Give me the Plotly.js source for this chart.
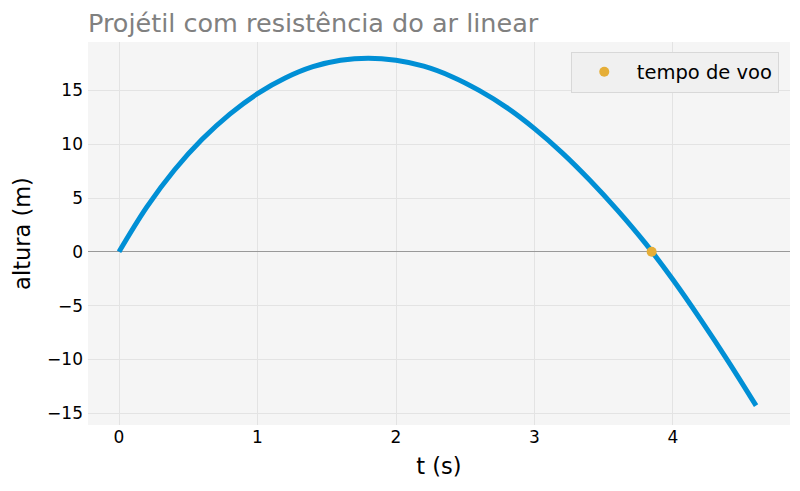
<!DOCTYPE html>
<html>
<head>
<meta charset="utf-8">
<script src="https://cdn.plot.ly/plotly-3.0.1.min.js"></script>
<style>
  html, body { margin: 0; padding: 0; background: #fff; }
  #plot { width: 800px; height: 491px; }
</style>
</head>
<body>
<div id="plot"></div>
<script>
'use strict';

// altura do projétil
const tempo = [0, 0.2, 0.4, 0.6, 0.8, 1.0, 1.2, 1.4, 1.6, 1.8,
               2.0, 2.2, 2.4, 2.6, 2.8, 3.0, 3.2, 3.4, 3.6, 3.8,
               4.0, 4.2, 4.4, 4.6];
const altura = [0, 4.15, 7.6, 10.45, 12.8, 14.7, 16.15, 17.2, 17.8, 18.0,
                17.8, 17.25, 16.3, 15.0, 13.4, 11.45, 9.2, 6.65, 3.85, 0.8,
                -2.6, -6.3, -10.2, -14.3];

// tempo de voo
const tVoo = [3.846];
const yVoo = [0];

const yTicks = [-15, -10, -5, 0, 5, 10, 15];
const xTicks = [0, 1, 2, 3, 4];

const font = 'DejaVu Sans, sans-serif';

var curve = {
    x: tempo,
    y: altura,
    mode: 'lines',
    type: 'scatter',
    line: { color: '#008fd5', width: 5, shape: 'spline' },
    showlegend: false,
    hoverinfo: 'skip'
};

var voo = {
    x: tVoo,
    y: yVoo,
    mode: 'markers',
    type: 'scatter',
    name: 'tempo de voo',
    marker: { color: '#e5ae38', size: 10 }
};

var layout = {
    width: 800,
    height: 491,
    margin: { l: 88, r: 10, t: 42, b: 66 },
    paper_bgcolor: '#ffffff',
    plot_bgcolor: '#f5f5f5',
    font: { family: font, size: 17, color: '#000' },
    title: {
        text: 'Projétil com resistência do ar linear',
        font: { family: font, size: 25.5, color: '#808080' },
        x: 0, xref: 'paper', xanchor: 'left',
        y: 1, yref: 'paper', yanchor: 'bottom', pad: { b: 10 }
    },
    xaxis: {
        range: [-0.224, 4.845],
        tickvals: xTicks,
        showgrid: true, gridcolor: '#e3e3e3', gridwidth: 1,
        zeroline: false, showline: false, ticks: '',
        tickfont: { size: 17 },
        title: { text: 't (s)', font: { size: 22.5 }, standoff: 12 }
    },
    yaxis: {
        range: [-16.1, 19.5],
        tickvals: yTicks,
        showgrid: true, gridcolor: '#e3e3e3', gridwidth: 1,
        zeroline: true, zerolinecolor: '#999999', zerolinewidth: 1.3,
        showline: false, ticks: '',
        ticklabelstandoff: 4,
        tickfont: { size: 17 },
        title: { text: 'altura (m)', font: { size: 22.5 }, standoff: 10 }
    },
    legend: {
        x: 0.984, xanchor: 'right',
        y: 0.975, yanchor: 'top',
        bgcolor: '#f0f0f0', bordercolor: '#d8d8d8', borderwidth: 1,
        itemwidth: 55,
        font: { size: 19.5 }
    },
    hovermode: false
};

Plotly.newPlot('plot', [curve, voo], layout, { displayModeBar: false, staticPlot: true });
</script>
</body>
</html>
